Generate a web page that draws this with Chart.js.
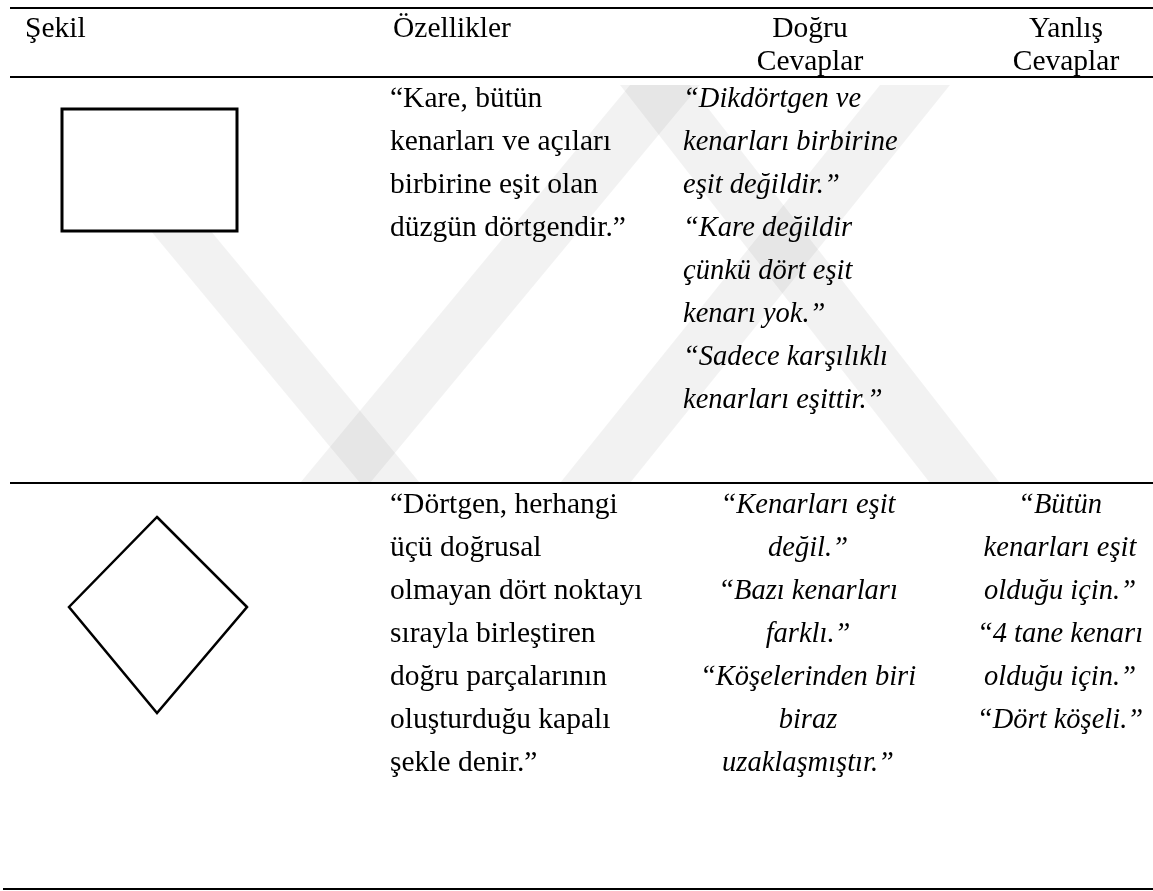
<!DOCTYPE html>
<html>
<head>
<meta charset="utf-8">
<script src="https://cdn.jsdelivr.net/npm/chart.js@4/dist/chart.umd.min.js"></script>
<style>
  html, body { margin: 0; padding: 0; background: #fff; }
  #wrap { position: relative; width: 1153px; height: 891px; overflow: hidden; }
  #shapes { position: absolute; left: 0; top: 0; }
  .ln {
    position: absolute; white-space: nowrap; color: #000;
    font-family: "Liberation Serif", "Times New Roman", serif; font-size: 29.5px;
    height: 43px; line-height: 43px;
  }
  .it { font-style: italic; font-size: 28.5px; }
  .ctr { transform: translateX(-50%); }
</style>
</head>
<body>
<div id="wrap">
  <canvas id="shapes" width="1153" height="891"></canvas>
</div>
<script>
// table rules (y, x start)
const ruleY = [8, 77, 483, 889];
const ruleX0 = [10, 10, 10, 3];
const pageW = 1153, pageH = 891;

// shapes drawn in the "Şekil" column (corner list, path closes on itself)
const rectPts = [[62, 109], [237, 109], [237, 231], [62, 231]];
const kitePts = [[157, 517], [247, 607], [157, 713], [69, 607]];

// faint watermark bands
const bands = [
  [[300, 483], [370, 483], [700, 85], [630, 85]],
  [[560, 483], [630, 483], [950, 85], [880, 85]],
  [[620, 85], [690, 85], [1000, 483], [930, 483]],
  [[150, 230], [210, 230], [420, 483], [360, 483]]
];

// header texts
const headers = [
  { text: ["Şekil"], x: 25, align: "left" },
  { text: ["Özellikler"], x: 393, align: "left" },
  { text: ["Doğru", "Cevaplar"], x: 810, align: "center" },
  { text: ["Yanlış", "Cevaplar"], x: 1066, align: "center" }
];
const headerY = [27, 60];

// row 1 cells
const row1Ozellik = ["“Kare, bütün", "kenarları ve açıları", "birbirine eşit olan", "düzgün dörtgendir.”"];
const row1Dogru = ["“Dikdörtgen ve", "kenarları birbirine", "eşit değildir.”", "“Kare değildir",
  "çünkü dört eşit", "kenarı yok.”", "“Sadece karşılıklı", "kenarları eşittir.”"];
// row 2 cells
const row2Ozellik = ["“Dörtgen, herhangi", "üçü doğrusal", "olmayan dört noktayı", "sırayla birleştiren",
  "doğru parçalarının", "oluşturduğu kapalı", "şekle denir.”"];
const row2Dogru = ["“Kenarları eşit", "değil.”", "“Bazı kenarları", "farklı.”", "“Köşelerinden biri",
  "biraz", "uzaklaşmıştır.”"];
const row2Yanlis = ["“Bütün", "kenarları eşit", "olduğu için.”", "“4 tane kenarı", "olduğu için.”", "“Dört köşeli.”"];

const row1Y = 97, row2Y = 503, lineGap = 43;

const wrap = document.getElementById("wrap");
function addLine(text, x, cy, center, italic) {
  const d = document.createElement("div");
  d.className = "ln" + (center ? " ctr" : "") + (italic ? " it" : "");
  d.textContent = text;
  d.style.left = x + "px";
  d.style.top = (cy - 21.5) + "px";
  wrap.appendChild(d);
}
function addCell(lines, x, y0, gap, center, italic) {
  lines.forEach((t, i) => addLine(t, x, y0 + i * gap, center, italic));
}

headers.forEach(h => h.text.forEach((t, i) => addLine(t, h.x, headerY[i], h.align === "center", false)));
addCell(row1Ozellik, 390, row1Y, lineGap, false, false);
addCell(row1Dogru, 683, row1Y, lineGap, false, true);
addCell(row2Ozellik, 390, row2Y, lineGap, false, false);
addCell(row2Dogru, 808, row2Y, lineGap, true, true);
addCell(row2Yanlis, 1060, row2Y, lineGap, true, true);

// build datasets
const toXY = pts => pts.map(p => ({ x: p[0], y: p[1] }));
// closed outline: go round once more to the second corner so every joint is mitred
const closed = pts => toXY(pts.concat([pts[0], pts[1]]));
const datasets = [];
bands.forEach(b => datasets.push({
  data: toXY(b.concat([b[0]])), showLine: true, fill: "shape",
  backgroundColor: "rgba(0,0,0,0.05)", borderWidth: 0, pointRadius: 0
}));
ruleY.forEach((y, i) => datasets.push({
  data: [{ x: ruleX0[i], y: y }, { x: pageW, y: y }], showLine: true,
  borderColor: "#000", borderWidth: 2, pointRadius: 0
}));
datasets.push({ data: closed(rectPts), showLine: true, borderColor: "#000", borderWidth: 3, pointRadius: 0 });
datasets.push({ data: closed(kitePts), showLine: true, borderColor: "#000", borderWidth: 2.5, pointRadius: 0 });

new Chart(document.getElementById("shapes"), {
  type: "scatter",
  data: { datasets: datasets },
  options: {
    responsive: false, animation: false, devicePixelRatio: 1,
    layout: { padding: 0 },
    elements: { line: { tension: 0, borderJoinStyle: "miter" } },
    plugins: { legend: { display: false }, tooltip: { enabled: false } },
    scales: {
      x: { type: "linear", min: 0, max: pageW, display: false },
      y: { type: "linear", min: 0, max: pageH, reverse: true, display: false }
    }
  }
});
</script>
</body>
</html>
